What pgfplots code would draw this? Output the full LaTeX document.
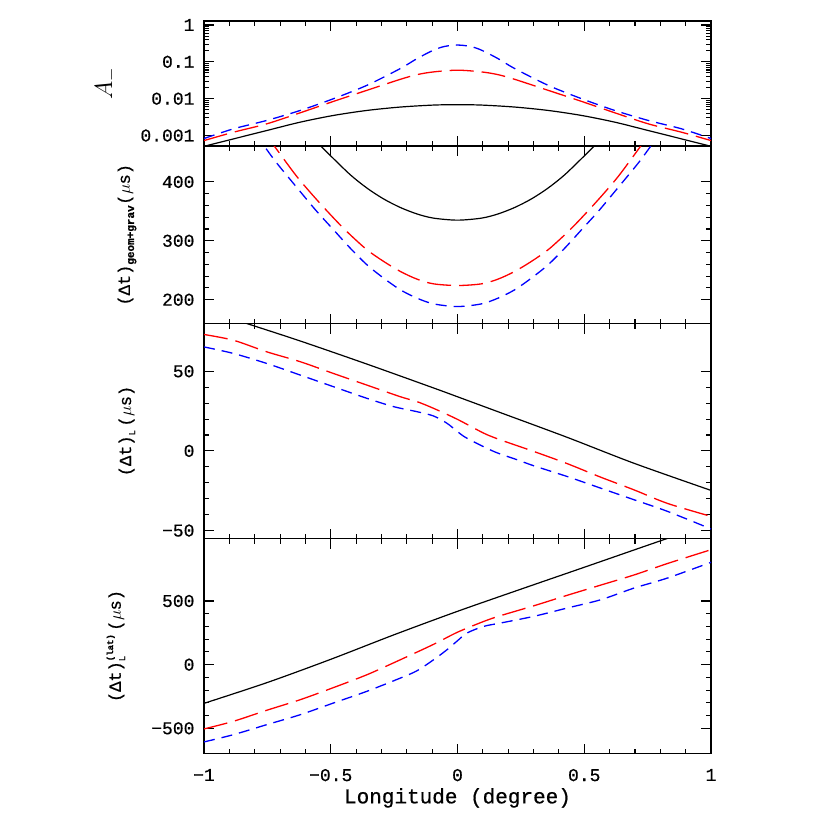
\documentclass[border=0pt]{standalone}
\usepackage{pgfplots}
\pgfplotsset{compat=1.18}
\usepackage{fontspec}
\setmainfont{Liberation Mono}[FakeBold=0.6]

\definecolor{cred}{rgb}{1,0,0}
\definecolor{cblue}{rgb}{0,0,1}

\pgfplotsset{
  panel/.style={
    scale only axis, width=507pt,
    xmin=-1, xmax=1,
    xtick={-1,-0.5,0,0.5,1}, minor x tick num=4,
    tick pos=both, tick align=inside,
    major tick length=10pt, minor tick length=5pt,
    every tick/.style={black, line width=1.1pt},
    axis line style={line width=1.4pt},
    tick label style={font=\fontsize{18}{20}\selectfont},
    yticklabel style={xshift=-6pt},
    xticklabel style={yshift=-12pt},
    label style={font=\fontsize{17}{19}\selectfont},
    xticklabels={},
    anchor=north west,
  },
  blk/.style={black, line width=1.2pt, smooth},
  rd/.style={cred, line width=1.3pt, dash pattern=on 24pt off 8pt, smooth},
  bl/.style={cblue, line width=1.3pt, dash pattern=on 11pt off 7pt, smooth},
}

\begin{document}
\begin{tikzpicture}
\path[use as bounding box] (0pt,0pt) rectangle (830pt,-830pt);

% panel 1: A_-
\begin{axis}[panel, at={(204pt,-21pt)}, height=125pt,
    ymode=log, ymin=5.2e-4, ymax=1.28,
    ytick={0.001,0.01,0.1,1}, yticklabels={0.001,0.01,0.1,1},
    ylabel={\fontsize{24}{26}\selectfont$A_{-}$},
    ylabel style={at={(axis description cs:-0.193,0.5)}, anchor=center}]
  \addplot[blk] coordinates {(-1,5.1e-4)(-0.884,8.1e-4)(-0.752,1.37e-3)(-0.62,2.31e-3)(-0.489,3.51e-3)(-0.357,4.8e-3)(-0.225,5.93e-3)(-0.094,6.71e-3)(0,6.86e-3)
    (0.094,6.71e-3)(0.225,5.93e-3)(0.357,4.8e-3)(0.489,3.51e-3)(0.62,2.31e-3)(0.752,1.37e-3)(0.884,8.1e-4)(1,5.1e-4)};
  \addplot[rd] coordinates {(-1,7.3e-4)(-0.884,1.23e-3)(-0.752,2.08e-3)(-0.62,4.15e-3)(-0.489,8.45e-3)(-0.357,0.0169)(-0.225,0.0336)(-0.159,0.045)(-0.094,0.0533)(0,0.0593)
    (0.094,0.0533)(0.159,0.045)(0.225,0.0336)(0.357,0.0169)(0.489,8.45e-3)(0.62,4.15e-3)(0.752,2.08e-3)(0.884,1.23e-3)(1,7.3e-4)};
  \addplot[bl] coordinates {(-1,8.3e-4)(-0.884,1.52e-3)(-0.752,2.57e-3)(-0.62,4.8e-3)(-0.489,0.010)(-0.357,0.0231)(-0.225,0.066)(-0.159,0.123)(-0.094,0.208)(-0.05,0.262)(0,0.285)
    (0.05,0.262)(0.094,0.208)(0.159,0.123)(0.225,0.066)(0.357,0.0231)(0.489,0.010)(0.62,4.8e-3)(0.752,2.57e-3)(0.884,1.52e-3)(1,8.3e-4)};
\end{axis}

% panel 2: geom+grav
\begin{axis}[panel, at={(204pt,-146pt)}, height=177.5pt,
    ymin=159.6, ymax=461, ytick={200,300,400}, minor y tick num=4,
    yticklabels={200,300,400},
    ylabel={$\mbox{(Δt)}_{\mbox{\fontsize{11}{12}\selectfont\bfseries geom+grav}}\mbox{(}\mu\mbox{s)}$},
    ylabel style={at={(axis description cs:-0.152,0.5)}, anchor=center}]
  \addplot[blk] coordinates {(-0.56,470.5)(-0.528,456)(-0.498,443.3)(-0.423,412.2)(-0.357,389.5)(-0.291,371)(-0.225,356.5)(-0.159,345.5)(-0.094,338.5)(0,335.1)
    (0.094,338.5)(0.159,345.5)(0.225,356.5)(0.291,371)(0.357,389.5)(0.423,412.2)(0.498,443.3)(0.528,456)(0.56,470.5)};
  \addplot[rd] coordinates {(-0.76,482)(-0.723,461)(-0.634,409.3)(-0.555,369.7)(-0.476,332.9)(-0.423,310.2)(-0.357,284.7)(-0.291,264.9)(-0.225,247.9)(-0.159,234.8)(-0.094,226.9)(0,224.1)
    (0.094,226.9)(0.159,234.8)(0.225,247.9)(0.291,264.9)(0.357,284.7)(0.423,310.2)(0.476,332.9)(0.555,369.7)(0.634,409.3)(0.723,461)(0.76,482)};
  \addplot[bl] coordinates {(-0.80,480)(-0.763,461)(-0.713,432)(-0.621,383.9)(-0.555,349.9)(-0.489,318.7)(-0.423,287.5)(-0.357,259.2)(-0.291,236.5)(-0.225,216.7)(-0.159,202.5)(-0.094,192.9)(0,188.4)
    (0.094,192.9)(0.159,202.5)(0.225,216.7)(0.291,236.5)(0.357,259.2)(0.423,287.5)(0.489,318.7)(0.555,349.9)(0.621,383.9)(0.713,432)(0.763,461)(0.80,480)};
\end{axis}

% panel 3: (dt)_L
\begin{axis}[panel, at={(204pt,-323.5pt)}, height=215pt,
    ymin=-55, ymax=80, ytick={-50,0,50}, minor y tick num=4,
    yticklabels={−50,0,50},
    ylabel={$\mbox{(Δt)}_{\mbox{\fontsize{9}{10}\selectfont L}}\,\mbox{(}\mu\mbox{s)}$},
    ylabel style={at={(axis description cs:-0.152,0.5)}, anchor=center}]
  \addplot[blk] coordinates {(-1,89)(-0.831,80)(-0.62,69)(-0.357,54.5)(-0.094,39.5)(0,34)(0.17,24)(0.433,8.5)(0.697,-7.8)(1,-24.8)};
  \addplot[rd] coordinates {(-1,73.1)(-0.884,69.5)(-0.752,62.2)(-0.62,56)(-0.489,48.6)(-0.357,41.3)(-0.225,34)(-0.159,30.9)(-0.094,26.7)(0,19.8)(0.104,11.1)(0.17,6.9)(0.302,-0.4)(0.433,-8)(0.565,-16.5)(0.697,-24.5)(0.829,-33)(1,-41.1)};
  \addplot[bl] coordinates {(-1,65.3)(-0.884,61.2)(-0.752,54.9)(-0.62,47.6)(-0.489,40.3)(-0.357,33)(-0.252,27.8)(-0.159,24.6)(-0.094,21.9)(-0.041,17.3)(0,12.1)(0.038,7.9)(0.144,-0.4)(0.236,-5.6)(0.302,-9.4)(0.433,-16.1)(0.565,-23.4)(0.697,-30.7)(0.829,-38)(1,-49)};
\end{axis}

% panel 4: (dt)_L^(lat)
\begin{axis}[panel, at={(204pt,-538.5pt)}, height=215pt,
    ymin=-698, ymax=991, ytick={-500,0,500}, minor y tick num=4,
    yticklabels={−500,0,500},
    xticklabels={−1,−0.5,0,0.5,1},
    xlabel={Longitude (degree)},
    xlabel style={font=\fontsize{21}{23}\selectfont},
    ylabel={$\mbox{(Δt)}_{\mbox{\fontsize{9}{10}\selectfont L}}^{\mbox{\fontsize{9}{10}\selectfont\bfseries (lat)}}\,\mbox{(}\mu\mbox{s)}$},
    ylabel style={at={(axis description cs:-0.174,0.5)}, anchor=center}]
  \addplot[blk] coordinates {(-1,-304)(-0.75,-140)(-0.5,42)(-0.25,235)(0,419)(0.25,593)(0.5,765)(0.75,938)(1,1110)};
  \addplot[rd] coordinates {(-1,-505)(-0.884,-445)(-0.752,-358)(-0.62,-275)(-0.489,-180)(-0.357,-79)(-0.225,39)(-0.094,160)(0,255)(0.104,340)(0.17,385)(0.302,463)(0.433,545)(0.565,625)(0.697,705)(0.829,795)(1,903)};
  \addplot[bl] coordinates {(-1,-607)(-0.884,-550)(-0.752,-471)(-0.62,-393)(-0.489,-301)(-0.357,-209)(-0.225,-105)(-0.159,-47)(-0.094,39)(-0.041,118)(0,188)(0.038,249)(0.104,301)(0.17,327)(0.302,380)(0.433,445)(0.565,510)(0.697,602)(0.829,681)(1,804)};
\end{axis}
\end{tikzpicture}
\end{document}
